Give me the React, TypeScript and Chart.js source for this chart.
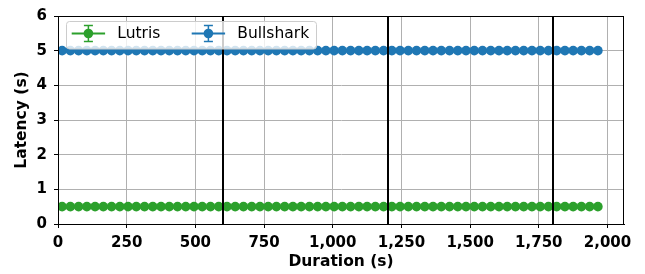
import React, { useEffect, useRef } from 'react';
import { Chart, registerables } from 'chart.js';

Chart.register(...registerables);

const durations = [
  15, 45, 75, 105, 135, 165, 195, 225, 255, 285, 315,
  345, 375, 405, 435, 465, 495, 525, 555, 585, 615, 645,
  675, 705, 735, 765, 795, 825, 855, 885, 915, 945, 975,
  1005, 1035, 1065, 1095, 1125, 1155, 1185, 1215, 1245, 1275,
  1305, 1335, 1365, 1395, 1425, 1455, 1485, 1515, 1545, 1575,
  1605, 1635, 1665, 1695, 1725, 1755, 1785, 1815, 1845, 1875,
  1905, 1935, 1965,
];

const lutrisLatency = [
  0.5, 0.5, 0.5, 0.5, 0.5, 0.5, 0.5, 0.5, 0.5, 0.5, 0.5,
  0.5, 0.5, 0.5, 0.5, 0.5, 0.5, 0.5, 0.5, 0.5, 0.5, 0.5,
  0.5, 0.5, 0.5, 0.5, 0.5, 0.5, 0.5, 0.5, 0.5, 0.5, 0.5,
  0.5, 0.5, 0.5, 0.5, 0.5, 0.5, 0.5, 0.5, 0.5, 0.5, 0.5,
  0.5, 0.5, 0.5, 0.5, 0.5, 0.5, 0.5, 0.5, 0.5, 0.5, 0.5,
  0.5, 0.5, 0.5, 0.5, 0.5, 0.5, 0.5, 0.5, 0.5, 0.5, 0.5,
];

const bullsharkLatency = [
  5, 5, 5, 5, 5, 5, 5, 5, 5, 5, 5,
  5, 5, 5, 5, 5, 5, 5, 5, 5, 5, 5,
  5, 5, 5, 5, 5, 5, 5, 5, 5, 5, 5,
  5, 5, 5, 5, 5, 5, 5, 5, 5, 5, 5,
  5, 5, 5, 5, 5, 5, 5, 5, 5, 5, 5,
  5, 5, 5, 5, 5, 5, 5, 5, 5, 5, 5,
];

const seriesNames = ['Lutris', 'Bullshark'];
const seriesColors = ['#2ca02c', '#1f77b4'];
const markerLines = [600, 1200, 1800];
const xTickValues = [0, 250, 500, 750, 1000, 1250, 1500, 1750, 2000];
const yTickValues = [0, 1, 2, 3, 4, 5, 6];
const xRange = [0, 2060];
const yRange = [0, 6];

const FONT = "'DejaVu Sans', sans-serif";

const overlayPlugin = {
  id: 'overlay',
  afterDatasetsDraw(chart: any) {
    const { ctx, chartArea, scales } = chart;
    const xs = scales.x;
    ctx.save();
    ctx.strokeStyle = '#000';
    ctx.lineWidth = 2;
    markerLines.forEach((v) => {
      const px = Math.round(xs.getPixelForValue(v));
      ctx.beginPath();
      ctx.moveTo(px, chartArea.top);
      ctx.lineTo(px, chartArea.bottom);
      ctx.stroke();
    });
    ctx.lineWidth = 1;
    ctx.strokeRect(
      Math.round(chartArea.left) + 0.5,
      Math.round(chartArea.top) + 0.5,
      Math.round(chartArea.right - chartArea.left) - 1,
      Math.round(chartArea.bottom - chartArea.top)
    );
    const lx = 66.5, ly = 21.5, lw = 250, lh = 27.5, r = 3;
    ctx.beginPath();
    ctx.moveTo(lx + r, ly);
    ctx.lineTo(lx + lw - r, ly);
    ctx.arcTo(lx + lw, ly, lx + lw, ly + r, r);
    ctx.lineTo(lx + lw, ly + lh - r);
    ctx.arcTo(lx + lw, ly + lh, lx + lw - r, ly + lh, r);
    ctx.lineTo(lx + r, ly + lh);
    ctx.arcTo(lx, ly + lh, lx, ly + lh - r, r);
    ctx.lineTo(lx, ly + r);
    ctx.arcTo(lx, ly, lx + r, ly, r);
    ctx.closePath();
    ctx.fillStyle = 'rgba(255,255,255,0.8)';
    ctx.fill();
    ctx.strokeStyle = '#cccccc';
    ctx.lineWidth = 1;
    ctx.stroke();

    const cy = 33.5;
    const starts = [71.7, 191.7];
    seriesNames.forEach((name, i) => {
      const x0 = starts[i];
      const cx = x0 + 16.7;
      ctx.strokeStyle = seriesColors[i];
      ctx.fillStyle = seriesColors[i];
      ctx.lineWidth = 2;
      ctx.beginPath();
      ctx.moveTo(x0, cy);
      ctx.lineTo(x0 + 33.4, cy);
      ctx.stroke();
      ctx.lineWidth = 1.5;
      ctx.beginPath();
      ctx.moveTo(cx, cy - 8);
      ctx.lineTo(cx, cy + 8);
      ctx.moveTo(cx - 4.5, cy - 8);
      ctx.lineTo(cx + 4.5, cy - 8);
      ctx.moveTo(cx - 4.5, cy + 8);
      ctx.lineTo(cx + 4.5, cy + 8);
      ctx.stroke();
      ctx.beginPath();
      ctx.arc(cx, cy, 4.8, 0, Math.PI * 2);
      ctx.fill();
      ctx.fillStyle = '#000';
      ctx.font = `15.5px ${FONT}`;
      ctx.textBaseline = 'middle';
      ctx.textAlign = 'left';
      ctx.fillText(name, x0 + 45.6, cy + 0.5);
    });
    ctx.restore();
  },
};

export default function App() {
  const ref = useRef<HTMLCanvasElement | null>(null);

  useEffect(() => {
    if (!ref.current) return;
    const seriesValues = [lutrisLatency, bullsharkLatency];
    const chart = new Chart(ref.current, {
      type: 'line',
      data: {
        datasets: seriesNames.map((name, i) => ({
          label: name,
          data: durations.map((d, j) => ({ x: d, y: seriesValues[i][j] })),
          borderColor: seriesColors[i],
          backgroundColor: seriesColors[i],
          borderWidth: 2,
          pointRadius: 4.8,
          pointBorderWidth: 0,
          pointBackgroundColor: seriesColors[i],
          tension: 0,
        })),
      },
      options: {
        animation: false,
        responsive: false,
        devicePixelRatio: 1,
        layout: { padding: { left: 0, right: 21, top: 13.5, bottom: 0 } },
        plugins: { legend: { display: false }, tooltip: { enabled: false } },
        scales: {
          x: {
            type: 'linear',
            min: xRange[0],
            max: xRange[1],
            afterFit: (s: any) => { s.height = 50; },
            afterBuildTicks: (s: any) => { s.ticks = xTickValues.map((v) => ({ value: v })); },
            ticks: {
              autoSkip: false,
              maxRotation: 0,
              color: '#000',
              padding: 6,
              font: { family: FONT, size: 15, weight: 'bold' },
              callback: (v: any) => Number(v).toLocaleString('en-US'),
            },
            grid: { color: '#b0b0b0', lineWidth: 1, tickColor: '#000', tickLength: 4 },
            border: { color: '#000', width: 1 },
            title: {
              display: true,
              text: 'Duration (s)',
              color: '#000',
              font: { family: FONT, size: 15.5, weight: 'bold' },
              padding: { top: 0, bottom: 3 },
            },
          },
          y: {
            type: 'linear',
            min: yRange[0],
            max: yRange[1],
            afterFit: (s: any) => { s.width = 58; },
            afterBuildTicks: (s: any) => { s.ticks = yTickValues.map((v) => ({ value: v })); },
            ticks: {
              autoSkip: false,
              color: '#000',
              padding: 7,
              font: { family: FONT, size: 15, weight: 'bold' },
            },
            grid: { color: '#b0b0b0', lineWidth: 1, tickColor: '#000', tickLength: 4 },
            border: { color: '#000', width: 1 },
            title: {
              display: true,
              text: 'Latency (s)',
              color: '#000',
              font: { family: FONT, size: 15.5, weight: 'bold' },
              padding: { top: 12.7, bottom: 0 },
            },
          },
        },
      },
      plugins: [overlayPlugin],
    } as any);
    return () => chart.destroy();
  }, []);

  return (
    <div style={{ position: 'absolute', left: 0, top: 0, width: 645, height: 274, background: '#fff' }}>
      <canvas ref={ref} width={645} height={274} style={{ display: 'block' }} />
    </div>
  );
}
